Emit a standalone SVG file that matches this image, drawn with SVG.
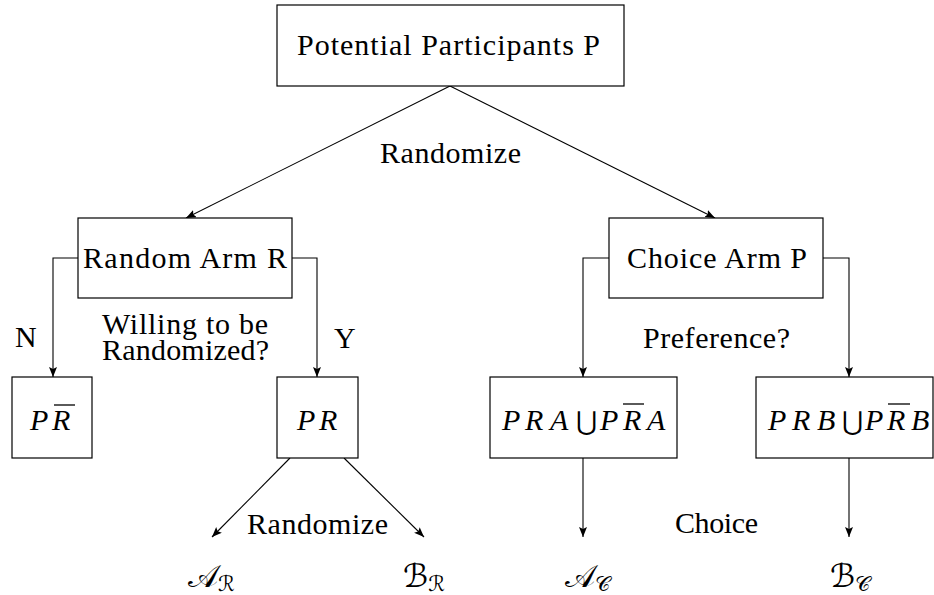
<svg xmlns="http://www.w3.org/2000/svg" width="934" height="595" viewBox="0 0 934 595">
<defs>
<marker id="ah" markerUnits="userSpaceOnUse" markerWidth="12" markerHeight="10" refX="10" refY="4" orient="auto">
<path d="M0,0 L10,4 L0,8 L2,4 Z" fill="#000"/>
</marker>
<style>
.box{fill:#fff;stroke:#000;stroke-width:1.2}
.c{fill:none;stroke:#000;stroke-width:1.1;marker-end:url(#ah)}
.t{font-family:'Liberation Serif',serif;font-size:30px;fill:#000}
.m{font-family:'Liberation Serif',serif;font-size:30px;font-style:italic;fill:#000}
.u{font-style:normal;font-family:'DejaVu Sans',sans-serif;font-size:26px}
.cal{font-family:'DejaVu Sans','Noto Sans',serif;font-size:32px;fill:#000}
.bar{stroke:#000;stroke-width:1.3}
</style>
</defs>
<g id="connectors">
<line class="c" x1="450" y1="86" x2="186" y2="218"/>
<line class="c" x1="450" y1="86" x2="715" y2="218"/>
<polyline class="c" points="78,258 53,258 53,377"/>
<polyline class="c" points="292,258 317,258 317,377"/>
<polyline class="c" points="609,258 583,258 583,377"/>
<polyline class="c" points="823,258 849,258 849,377"/>
<line class="c" x1="290" y1="458" x2="212" y2="537"/>
<line class="c" x1="344" y1="458" x2="424" y2="537"/>
<line class="c" x1="583" y1="458" x2="583" y2="537"/>
<line class="c" x1="849" y1="458" x2="849" y2="537"/>
</g>
<g id="labels">
<text class="t" x="380" y="163" textLength="141">Randomize</text>
<text class="t" x="102" y="334" textLength="166">Willing to be</text>
<text class="t" x="102" y="360" textLength="167">Randomized?</text>
<text class="t" x="15" y="347" textLength="21">N</text>
<text class="t" x="334" y="348" textLength="20">Y</text>
<text class="t" x="643" y="348" textLength="147">Preference?</text>
<text class="t" x="247" y="534" textLength="141">Randomize</text>
<text class="t" x="675" y="533" textLength="83">Choice</text>
</g>
<g id="top">
<rect class="box" x="277" y="5" width="347" height="81"/>
<text class="t" x="297" y="55" textLength="303">Potential Participants P</text>
</g>
<g id="random-arm">
<rect class="box" x="78" y="218" width="214" height="80"/>
<text class="t" x="83" y="268" textLength="204">Random Arm R</text>
</g>
<g id="choice-arm">
<rect class="box" x="609" y="218" width="214" height="80"/>
<text class="t" x="627" y="268" textLength="180">Choice Arm P</text>
</g>
<g id="prbar">
<rect class="box" x="12" y="377" width="80" height="81"/>
<text class="m" x="30 52" y="430">PR</text>
<line class="bar" x1="54" y1="405" x2="75" y2="405"/>
</g>
<g id="pr">
<rect class="box" x="277" y="377" width="81" height="81"/>
<text class="m" x="297 319" y="430">PR</text>
</g>
<g id="pra">
<rect class="box" x="490" y="377" width="187" height="81"/>
<text class="m" x="502 525 550" y="430">PRA<tspan class="u" x="576">⋃</tspan><tspan x="600 623 647">PRA</tspan></text>
<line class="bar" x1="623" y1="404" x2="644" y2="404"/>
</g>
<g id="prb">
<rect class="box" x="756" y="377" width="177" height="81"/>
<text class="m" x="768 792 817" y="430">PRB<tspan class="u" x="842">⋃</tspan><tspan x="865 887 911">PRB</tspan></text>
<line class="bar" x1="888" y1="404" x2="910" y2="404"/>
</g>
<g id="outcomes">
<text class="cal" x="188" y="587">𝒜<tspan font-size="21" dy="4">ℛ</tspan></text>
<text class="cal" x="403" y="587">ℬ<tspan font-size="21" dy="4">ℛ</tspan></text>
<text class="cal" x="565" y="587">𝒜<tspan font-size="21" dy="4">𝒞</tspan></text>
<text class="cal" x="830" y="587">ℬ<tspan font-size="21" dy="4">𝒞</tspan></text>
</g>
</svg>
